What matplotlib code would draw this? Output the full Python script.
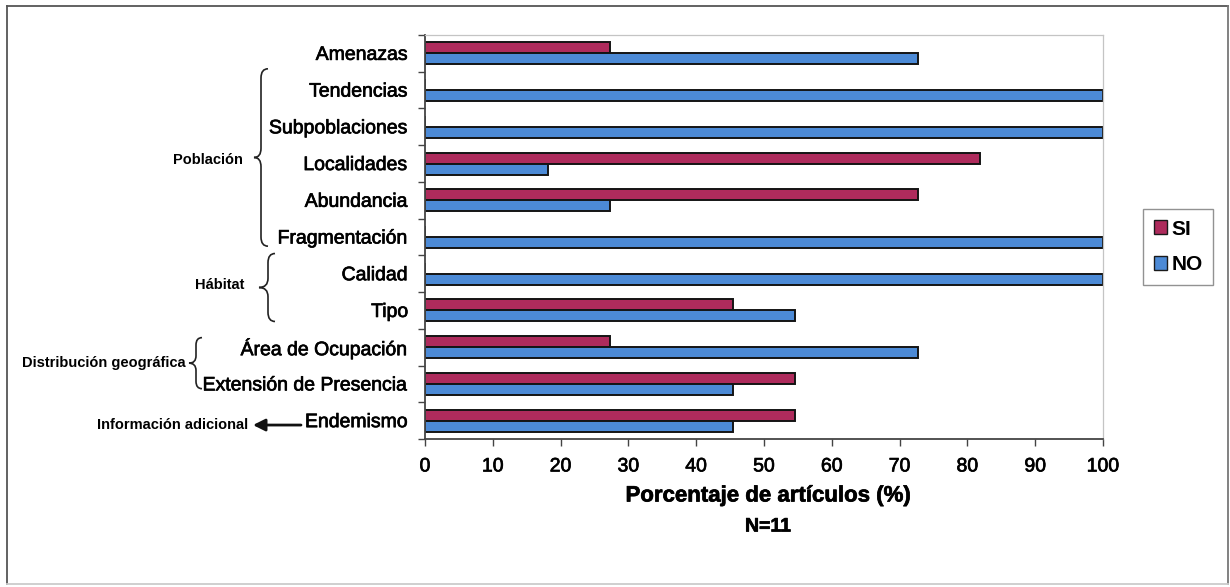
import matplotlib
matplotlib.use("Agg")
import matplotlib.pyplot as plt
import matplotlib.patheffects as pe
from matplotlib.path import Path
from matplotlib.patches import PathPatch, Patch
from matplotlib.lines import Line2D

plt.rcParams['font.family'] = ['Liberation Sans', 'DejaVu Sans']

# Data: share of articles (N=11) that report each criterion
categories = ["Amenazas", "Tendencias", "Subpoblaciones", "Localidades",
              "Abundancia", "Fragmentación", "Calidad", "Tipo",
              "Área de Ocupación", "Extensión de Presencia", "Endemismo"]
si_values = [27.3, 0, 0, 81.8, 72.7, 0, 0, 45.5, 27.3, 54.5, 54.5]
no_values = [72.7, 100, 100, 18.2, 27.3, 100, 100, 54.5, 72.7, 45.5, 45.5]
series_labels = ["SI", "NO"]
x_ticks = list(range(0, 101, 10))

SI_COLOR = "#AE2B5C"
NO_COLOR = "#4C8AD6"
heavy = [pe.withStroke(linewidth=0.5, foreground="black")]

W, H = 1230, 587
fig = plt.figure(figsize=(W / 100, H / 100), dpi=100)

# Outer frame of the figure
def px(x, y):
    return x / W, 1 - y / H
for (x0, y0), (x1, y1), c in [((7, 6), (1228, 6), "#555555"),
                              ((7, 6), (7, 584), "#555555"),
                              ((1228, 6), (1228, 584), "#777777"),
                              ((7, 584), (1228, 584), "#cccccc")]:
    a, b = px(x0, y0), px(x1, y1)
    fig.add_artist(Line2D([a[0], b[0]], [a[1], b[1]], color=c, lw=1.3,
                          transform=fig.transFigure))

ax_left, ax_right, ax_top, ax_bottom = 425, 1103, 35, 439
ax = fig.add_axes([ax_left / W, 1 - ax_bottom / H,
                   (ax_right - ax_left) / W, (ax_bottom - ax_top) / H])

idx = list(range(len(categories)))
bh = 0.30
ax.barh([i - bh / 2 for i in idx], si_values, height=bh, color=SI_COLOR,
        edgecolor="#141414", linewidth=1.4, label=series_labels[0])
ax.barh([i + bh / 2 for i in idx], no_values, height=bh, color=NO_COLOR,
        edgecolor="#141414", linewidth=1.4, label=series_labels[1])

ax.set_xlim(0, 100)
ax.set_ylim(len(categories) - 0.5, -0.5)
ax.set_xticks(x_ticks)
ax.set_xticklabels([str(t) for t in x_ticks], fontsize=14)
ax.tick_params(axis="x", direction="out", length=5, width=1, pad=9,
               color="#444444")
ax.set_yticks(idx)
ax.set_yticklabels(categories, fontsize=14)
ax.tick_params(axis="y", which="major", length=0, pad=12)
ax.set_yticks([i + 0.5 for i in range(-1, len(categories))], minor=True)
ax.tick_params(axis="y", which="minor", direction="out", length=5,
               width=1, color="#444444")
for lab in ax.get_xticklabels() + ax.get_yticklabels():
    lab.set_path_effects(heavy)

for side in ("left", "bottom"):
    ax.spines[side].set_color("#444444")
    ax.spines[side].set_linewidth(1.3)
for side in ("top", "right"):
    ax.spines[side].set_color("#c4c4c4")
    ax.spines[side].set_linewidth(0.9)

# Axis title below the ticks
fig.text(768 / W, 1 - 496 / H, "Porcentaje de artículos (%)",
         ha="center", va="center", fontsize=16, fontweight="bold",
         path_effects=heavy)
fig.text(768 / W, 1 - 527 / H, "N=11", ha="center", va="center",
         fontsize=14, fontweight="bold", path_effects=heavy)

# Legend
handles = [Patch(facecolor=SI_COLOR, edgecolor="#1a1a1a", lw=1.0),
           Patch(facecolor=NO_COLOR, edgecolor="#1a1a1a", lw=1.0)]
leg = ax.legend(handles, series_labels, loc="center",
                bbox_to_anchor=(1178 / W, 1 - 247 / H),
                bbox_transform=fig.transFigure, frameon=True, fancybox=False,
                prop=dict(size=15, weight="bold"), handlelength=0.65,
                handleheight=0.65, handletextpad=0.2, labelspacing=0.8,
                borderpad=0.5, borderaxespad=0)
leg.get_frame().set_edgecolor("#777777")
leg.get_frame().set_linewidth(1.0)

# Group braces to the left of the category labels
ytrans = ax.get_yaxis_transform()
def fx(p):
    return (p - ax_left) / (ax_right - ax_left)

def brace(x_line, x_tip, y0, y1, curl=7, r=0.25):
    xl, xt, xc = fx(x_line), fx(x_tip), fx(x_line + curl)
    ym = (y0 + y1) / 2
    verts = [(xc, y0), (xl, y0), (xl, y0 + r),
             (xl, ym - r),
             (xl, ym), (xt, ym),
             (xl, ym), (xl, ym + r),
             (xl, y1 - r),
             (xl, y1), (xc, y1)]
    codes = [Path.MOVETO, Path.CURVE3, Path.CURVE3,
             Path.LINETO,
             Path.CURVE3, Path.CURVE3,
             Path.CURVE3, Path.CURVE3,
             Path.LINETO,
             Path.CURVE3, Path.CURVE3]
    patch = PathPatch(Path(verts, codes), fill=False, lw=1.2,
                      edgecolor="#222222", transform=ytrans, clip_on=False)
    ax.add_patch(patch)

group_kw = dict(transform=ytrans, ha="right", va="center", fontsize=10.5,
                fontweight="bold")

brace(261, 254, 0.42, 5.25)
ax.text(fx(243), 2.9, "Población", **group_kw)

brace(268, 259, 5.45, 7.3)
ax.text(fx(244), 6.3, "Hábitat", **group_kw)

brace(196, 189, 7.74, 9.13, curl=6, r=0.2)
ax.text(fx(186), 8.42, "Distribución geográfica", **group_kw)

ax.annotate("", xy=(fx(253), 10.12), xytext=(fx(301), 10.12),
            xycoords=ytrans, textcoords=ytrans,
            arrowprops=dict(arrowstyle="-|>,head_length=0.6,head_width=0.3",
                            color="#111111", lw=2.0,
                            mutation_scale=12, shrinkA=0, shrinkB=0))
ax.text(fx(248), 10.12, "Información adicional", **group_kw)

fig.savefig("out.png", dpi=100)
